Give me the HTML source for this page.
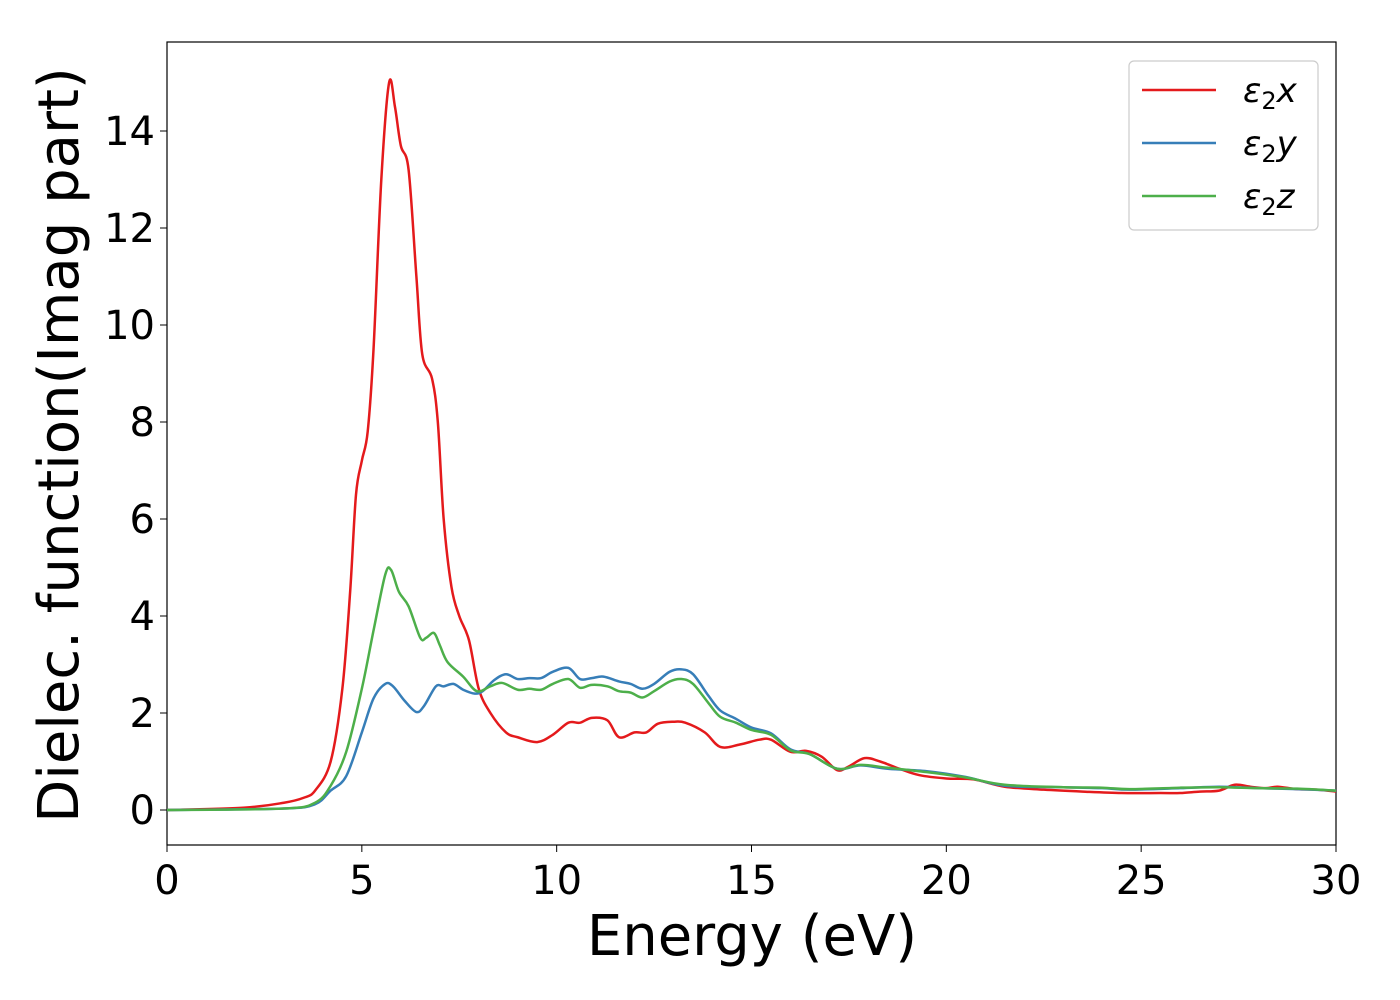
<!DOCTYPE html>
<html><head><meta charset="utf-8"><style>
body{margin:0;background:#fff}
svg{display:block;font-family:"DejaVu Sans","Liberation Sans",sans-serif}
</style></head><body>
<svg id="chart" width="1400" height="1000">
<rect x="167" y="42" width="1169" height="803" fill="#fff" stroke="#000" stroke-width="1.2"/>
<g id="ticks"></g>
<g id="series"></g>
<text x="752" y="955" font-size="56" text-anchor="middle">Energy (eV)</text>
<text transform="translate(78,445) rotate(-90)" font-size="56" text-anchor="middle">Dielec. function(Imag part)</text>
<g>
<rect x="1129" y="61" width="189" height="169" rx="5" fill="#fff" stroke="#ccc" stroke-width="1.2"/>
<g><line x1="1142" y1="90" x2="1216" y2="90" stroke="#e41a1c" stroke-width="2.5"/><text x="1243" y="102" font-size="34" font-style="italic">ε<tspan font-style="normal" font-size="24" dy="7">2</tspan><tspan dy="-7">x</tspan></text></g>
<g><line x1="1142" y1="143" x2="1216" y2="143" stroke="#377eb8" stroke-width="2.5"/><text x="1243" y="155" font-size="34" font-style="italic">ε<tspan font-style="normal" font-size="24" dy="7">2</tspan><tspan dy="-7">y</tspan></text></g>
<g><line x1="1142" y1="196" x2="1216" y2="196" stroke="#4daf4a" stroke-width="2.5"/><text x="1243" y="208" font-size="34" font-style="italic">ε<tspan font-style="normal" font-size="24" dy="7">2</tspan><tspan dy="-7">z</tspan></text></g>
</g>
</svg>
<script>
const xTicks=[0,5,10,15,20,25,30];
const yTicks=[0,2,4,6,8,10,12,14];
const redE=[0,2,3,3.5,3.8,4.2,4.5,4.7,4.85,5.0,5.15,5.3,5.5,5.7,5.85,6.0,6.2,6.4,6.55,6.8,6.95,7.1,7.3,7.5,7.75,8.0,8.3,8.7,9.0,9.5,9.9,10.3,10.6,10.9,11.3,11.6,12.0,12.3,12.6,13.0,13.3,13.8,14.2,14.7,15.2,15.5,16.0,16.4,16.8,17.2,17.5,17.9,18.3,18.8,19.3,20,20.7,21.5,22.5,23.5,24.5,25.5,26,26.5,27,27.4,27.8,28.2,28.5,29,29.5,30];
const redV=[0,0.05,0.15,0.25,0.4,1.0,2.5,4.5,6.5,7.2,7.8,9.5,13,15.0,14.5,13.7,13.2,11,9.4,8.9,8,6,4.6,4.0,3.5,2.5,2.0,1.6,1.5,1.4,1.55,1.8,1.8,1.9,1.85,1.5,1.6,1.6,1.78,1.82,1.8,1.6,1.3,1.35,1.45,1.45,1.2,1.22,1.1,0.82,0.9,1.07,1.0,0.85,0.72,0.65,0.63,0.48,0.42,0.38,0.35,0.35,0.35,0.38,0.4,0.52,0.48,0.45,0.48,0.43,0.42,0.38];
const blueE=[0,3,3.8,4.2,4.6,5.0,5.3,5.6,5.8,6.1,6.4,6.6,6.9,7.1,7.35,7.6,7.9,8.1,8.4,8.7,9.0,9.3,9.6,9.9,10.3,10.6,10.9,11.2,11.6,11.9,12.2,12.5,12.9,13.2,13.5,13.9,14.2,14.6,15.0,15.5,16,16.5,17.2,17.8,18.5,19.5,20.5,21.5,23,24,24.7,26,27,28,29,30];
const blueV=[0,0.03,0.12,0.4,0.7,1.6,2.3,2.6,2.55,2.25,2.02,2.15,2.55,2.55,2.6,2.48,2.4,2.45,2.68,2.8,2.7,2.72,2.72,2.85,2.93,2.7,2.72,2.75,2.65,2.6,2.5,2.6,2.85,2.9,2.8,2.35,2.05,1.88,1.7,1.58,1.25,1.15,0.85,0.92,0.85,0.8,0.68,0.5,0.47,0.45,0.42,0.45,0.48,0.45,0.43,0.4];
const greenE=[0,3,3.8,4.2,4.6,5.0,5.3,5.6,5.75,5.95,6.2,6.5,6.65,6.85,7.0,7.2,7.6,7.95,8.3,8.6,9.0,9.3,9.6,9.9,10.3,10.6,10.9,11.3,11.6,11.9,12.2,12.5,12.9,13.2,13.5,13.9,14.2,14.6,15.0,15.5,16,16.5,17.2,17.8,18.5,19.5,20.5,21.5,23,24,24.7,26,27,28,29,30];
const greenV=[0,0.03,0.15,0.5,1.2,2.5,3.7,4.85,4.95,4.5,4.2,3.55,3.55,3.65,3.4,3.05,2.75,2.45,2.55,2.62,2.48,2.5,2.48,2.6,2.7,2.52,2.58,2.55,2.45,2.42,2.32,2.45,2.65,2.7,2.6,2.2,1.92,1.8,1.65,1.55,1.23,1.15,0.85,0.93,0.87,0.78,0.67,0.52,0.47,0.46,0.43,0.46,0.47,0.45,0.44,0.4];
const X0=167,X1=1336,XMIN=0,XMAX=30,Y0=810,YPER=48.5;
const sx=e=>X0+(e-XMIN)/(XMAX-XMIN)*(X1-X0);
const sy=v=>Y0-v*YPER;
const NS="http://www.w3.org/2000/svg";
const ticks=document.getElementById('ticks');
xTicks.forEach(t=>{
  const l=document.createElementNS(NS,'line');
  
  
  l.setAttribute('x1',sx(t));l.setAttribute('x2',sx(t));l.setAttribute('y1',845);l.setAttribute('y2',852);l.setAttribute('stroke','#000');
  ticks.appendChild(l);
  const tx=document.createElementNS(NS,'text');
  
  
  tx.setAttribute('x',sx(t));tx.setAttribute('y',894);tx.setAttribute('font-size','40');tx.setAttribute('text-anchor','middle');
  tx.textContent=t;ticks.appendChild(tx);
});
yTicks.forEach(t=>{
  const l=document.createElementNS(NS,'line');
  
  
  l.setAttribute('x1',160);l.setAttribute('x2',167);l.setAttribute('y1',sy(t));l.setAttribute('y2',sy(t));l.setAttribute('stroke','#000');
  ticks.appendChild(l);
  const tx=document.createElementNS(NS,'text');
  
  
  tx.setAttribute('x',155);tx.setAttribute('y',sy(t)+14);tx.setAttribute('font-size','40');tx.setAttribute('text-anchor','end');
  tx.textContent=t;ticks.appendChild(tx);
});
function pathFor(E,V){
  const p=E.map((e,i)=>[sx(e),sy(V[i])]);
  let d='M'+p[0][0]+','+p[0][1];
  for(let i=0;i<p.length-1;i++){
    const a=p[Math.max(i-1,0)],b=p[i],c=p[i+1],n=p[Math.min(i+2,p.length-1)];
    const c1=[b[0]+(c[0]-a[0])/6,b[1]+(c[1]-a[1])/6],c2=[c[0]-(n[0]-b[0])/6,c[1]-(n[1]-b[1])/6];
    d+=' C'+c1[0]+','+c1[1]+' '+c2[0]+','+c2[1]+' '+c[0]+','+c[1];
  }
  return d;
}
const g=document.getElementById('series');
[[redE,redV,'#e41a1c','series-e2x'],[blueE,blueV,'#377eb8','series-e2y'],[greenE,greenV,'#4daf4a','series-e2z']].forEach(s=>{
  const p=document.createElementNS(NS,'path');
  
  
  p.setAttribute('d',pathFor(s[0],s[1]));p.setAttribute('fill','none');p.setAttribute('stroke',s[2]);p.setAttribute('stroke-width','2.5');
  g.appendChild(p);
});
</script>
</body></html>
